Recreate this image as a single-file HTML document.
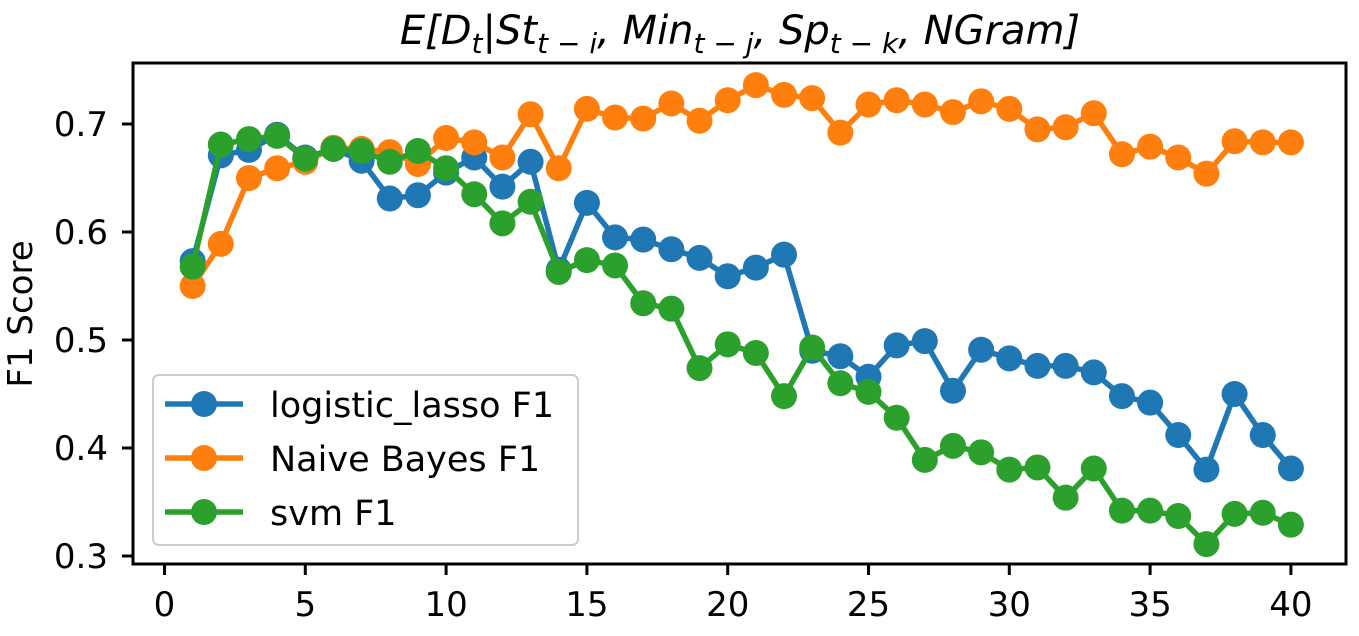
<!DOCTYPE html>
<html><head><meta charset="utf-8"><style>
body{margin:0;background:#fff;}
svg{display:block;font-family:"DejaVu Sans","Liberation Sans",sans-serif;}
</style></head><body>
<svg id="chart" width="1359" height="636" viewBox="0 0 1359 636">
<text x="740" y="44" text-anchor="middle" font-size="40" font-style="italic" font-family="DejaVu Sans, sans-serif">E[D<tspan font-size="28" dy="9">t</tspan><tspan dy="-9">|St</tspan><tspan font-size="28" dy="9">t − i</tspan><tspan dy="-9">, Min</tspan><tspan font-size="28" dy="9">t − j</tspan><tspan dy="-9">, Sp</tspan><tspan font-size="28" dy="9">t − k</tspan><tspan dy="-9">, NGram]</tspan></text>
<text transform="translate(32,314) rotate(-90)" text-anchor="middle" font-size="34">F1 Score</text>
<g id="ticks"></g>
<g id="series"></g>
<rect x="133" y="63" width="1213" height="501" fill="none" stroke="#000" stroke-width="3"/>
<g id="legend">
<rect x="153" y="375" width="425" height="170" rx="6" fill="#fff" fill-opacity="0.8" stroke="#ccc" stroke-width="2"/>
</g>
</svg>
<script>
const xs=[1,2,3,4,5,6,7,8,9,10,11,12,13,14,15,16,17,18,19,20,21,22,23,24,25,26,27,28,29,30,31,32,33,34,35,36,37,38,39,40];
const logistic=[0.573,0.671,0.676,0.690,0.669,0.677,0.666,0.631,0.634,0.655,0.669,0.642,0.665,0.565,0.627,0.595,0.593,0.584,0.576,0.559,0.567,0.579,0.490,0.485,0.466,0.495,0.499,0.453,0.491,0.483,0.476,0.476,0.470,0.448,0.442,0.412,0.380,0.450,0.412,0.381];
const bayes=[0.550,0.589,0.650,0.659,0.665,0.678,0.677,0.674,0.663,0.687,0.683,0.669,0.709,0.659,0.714,0.706,0.705,0.719,0.703,0.722,0.736,0.727,0.724,0.692,0.718,0.722,0.718,0.711,0.721,0.714,0.695,0.697,0.710,0.672,0.679,0.669,0.654,0.684,0.683,0.683];
const svm=[0.568,0.681,0.686,0.689,0.668,0.677,0.675,0.665,0.675,0.659,0.635,0.608,0.628,0.563,0.574,0.569,0.534,0.529,0.474,0.496,0.488,0.448,0.493,0.460,0.452,0.428,0.389,0.402,0.396,0.380,0.382,0.354,0.381,0.342,0.342,0.337,0.311,0.339,0.340,0.329];
const xTicks=[0,5,10,15,20,25,30,35,40];
const yTicks=[0.3,0.4,0.5,0.6,0.7];
const seriesNames=["logistic_lasso F1","Naive Bayes F1","svm F1"];
const NS="http://www.w3.org/2000/svg";
const X=v=>164.5+v*28.16;
const Y=v=>124+(0.7-v)*1080;
function mk(tag,attrs,parent){const e=document.createElementNS(NS,tag);for(const k in attrs)e.setAttribute(k,attrs[k]);parent.appendChild(e);return e;}
const tg=document.getElementById('ticks');
xTicks.forEach(t=>{
 const l=mk('line',{x1:X(t),x2:X(t),y1:564,y2:575,stroke:'#000','stroke-width':3},tg);
 
 
 const tx=mk('text',{x:X(t),y:616,'text-anchor':'middle','font-size':34},tg);tx.textContent=t;
 
 
});
yTicks.forEach(t=>{
 const l=mk('line',{x1:122,x2:133,y1:Y(t),y2:Y(t),stroke:'#000','stroke-width':3},tg);
 
 
 const tx=mk('text',{x:108,y:Y(t)+12,'text-anchor':'end','font-size':34},tg);tx.textContent=t.toFixed(1);
 
 
});
const colors=['#1f77b4','#ff7f0e','#2ca02c'];
const sg=document.getElementById('series');
[logistic,bayes,svm].forEach((d,i)=>{
 const g=mk('g',{},sg);
 
 
 const p=mk('polyline',{points:d.map((v,j)=>X(xs[j])+','+Y(v)).join(' '),fill:'none',stroke:colors[i],'stroke-width':5.5,'stroke-linejoin':'round'},g);
 
 
 d.forEach((v,j)=>{const c=mk('circle',{cx:X(xs[j]),cy:Y(v),r:13,fill:colors[i]},g);
  
  });
});
const lg=document.getElementById('legend');
seriesNames.forEach((n,i)=>{
 const y=404+i*54;
 const l=mk('line',{x1:165,x2:243,y1:y,y2:y,stroke:colors[i],'stroke-width':5.5},lg);
 
 
 const c=mk('circle',{cx:204,cy:y,r:13,fill:colors[i]},lg);
 
 
 const t=mk('text',{x:270,y:y+13,'font-size':35},lg);t.textContent=n;
 
 
});
</script>
</body></html>
